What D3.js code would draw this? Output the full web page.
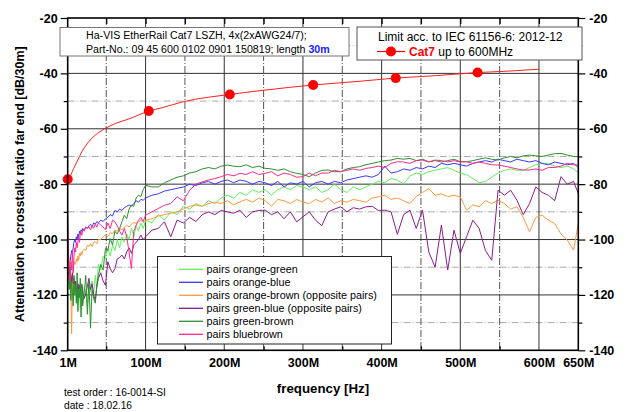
<!DOCTYPE html>
<html>
<head>
<meta charset="utf-8">
<script src="https://cdn.jsdelivr.net/npm/d3@7"></script>
<style>
  body { margin: 0; background: #fff; }
  text { font-family: Arial, "Liberation Sans", sans-serif; }
</style>
</head>
<body>
<div id="chart"></div>
<script>
// measurement frequencies in MHz (denser at the low end)
var freqs = [
  1, 2, 3, 4, 5, 6, 7, 8, 9, 10,
  11, 12, 13, 14, 15, 16, 17, 18, 19, 20,
  22, 24, 26, 28, 30, 32, 34, 36, 38, 40,
  43, 46, 49, 52, 55, 58, 61, 64, 67, 70,
  73, 76, 79, 82, 85, 88, 91, 94, 97, 100,
  108, 116, 124, 132, 140, 148, 156, 164, 172, 180,
  188, 196, 204, 212, 220, 228, 236, 244, 252, 260,
  268, 276, 284, 292, 300, 308, 316, 324, 332, 340,
  348, 356, 364, 372, 380, 388, 396, 404, 412, 420,
  428, 436, 444, 452, 460, 468, 476, 484, 492, 500,
  508, 516, 524, 532, 540, 548, 556, 564, 572, 580,
  588, 596, 604, 612, 620, 628, 636, 644, 650
];

// ACR-F in dB per pair combination
var orangeGreen = [
  -99, -106, -112, -110, -116, -113, -118, -114, -120, -117,
  -115, -121, -118, -123, -116, -120, -125, -119, -122, -117,
  -121, -118, -124, -116, -119, -115, -120, -113, -117, -109,
  -111, -106, -107, -103, -106, -102, -104, -100, -103, -99,
  -101, -98, -100, -96, -99, -95, -97, -94, -96, -93,
  -94, -91, -93, -90, -91, -88, -89, -87, -88, -86,
  -87, -85, -84, -85, -83, -84, -82, -83, -82, -84,
  -82, -81, -82, -80.5, -81, -82, -81, -83, -82, -80,
  -82, -83, -81, -82, -81, -80, -79, -79.5, -78, -78.5,
  -80, -77, -76, -76.5, -75.5, -75, -74.5, -74, -75, -76,
  -76.5, -78, -79.5, -79, -77.5, -76, -75, -74.5, -75, -75,
  -74, -73, -72.5, -72.5, -73.5, -74, -73.5, -74.5, -76
];
var orangeBlue = [
  -106, -110, -112, -108, -106, -104, -105, -103, -101, -100,
  -101, -99, -100, -98, -99, -97, -98, -96.5, -97, -96,
  -96.5, -95.5, -96, -95, -94.5, -95.5, -94, -94.5, -93.5, -94,
  -93, -93.5, -92.5, -92, -91, -91.5, -89.5, -90, -89, -89.5,
  -88.5, -88, -87.5, -88, -87, -86, -86.5, -85.5, -85.8, -85,
  -84, -83.5, -82.5, -82, -81.5, -81, -80, -80.5, -79.5, -79,
  -80, -79, -78.5, -79.5, -78.5, -79, -80, -79, -79.5, -80.5,
  -79, -81, -79.5, -80, -79, -81, -79.5, -79, -80, -79,
  -79.5, -78.5, -78, -77.5, -77, -77.5, -76.5, -73.5, -76, -75.5,
  -74.5, -75, -74, -74.5, -73.5, -74, -72.5, -73, -72.5, -73,
  -73.5, -72.5, -72, -71.5, -72, -71, -71.5, -72, -71, -71.5,
  -72, -71.5, -72.5, -73, -72, -72.5, -73, -72.5, -74
];
var orangeBrown = [
  -103, -105, -108, -112, -118, -134, -115, -110, -109, -108,
  -109, -107, -108, -106, -107.5, -105, -106, -104.5, -105.5, -104,
  -103.5, -104, -102, -102.5, -101.5, -102.5, -101, -100.8, -101.5, -100,
  -100, -99, -98.4, -99, -97.5, -98, -96.6, -97, -96, -96.5,
  -95.5, -94.8, -95.5, -94.5, -93.8, -94.2, -93.6, -93, -93.8, -93,
  -92.5, -91.5, -91, -90.5, -90, -89, -88, -87.5, -88, -87,
  -86.5, -87, -86, -87.5, -86.4, -85.5, -86.5, -85, -86, -88,
  -85.5, -86, -87, -85.5, -86.5, -87, -85.5, -86.5, -85, -87,
  -86, -86.5, -85.5, -86, -86.5, -85, -84.6, -84, -85.5, -85,
  -86, -87, -84.5, -83, -81.6, -84, -83.5, -84.5, -84, -84.6,
  -89.4, -87.5, -88.2, -86, -87, -85.8, -87, -89, -88.2, -92,
  -97.2, -92, -91.2, -93, -94.2, -98, -100.2, -103.8, -94.2
];
var greenBlue = [
  -91, -108, -112, -110, -113, -115, -112, -116, -114, -117,
  -115, -117, -119, -116, -118, -116.5, -120, -117, -116.5, -119,
  -121.3, -119.5, -117, -114, -118, -116, -120, -122, -117, -114,
  -112, -115, -116.5, -108, -110.5, -112, -110.5, -107, -106.5, -105.6,
  -107, -104.5, -103, -105, -102, -101, -100, -98.4, -100, -99,
  -96.6, -96, -93.6, -99, -93, -94, -92, -93.5, -91, -90,
  -91, -89.5, -90, -90.5, -89.4, -92, -90, -89.5, -89.4, -91,
  -90, -92.5, -90, -93.6, -91.8, -90, -93, -95, -90, -89,
  -88.2, -90, -88.5, -89, -88.2, -88, -89.5, -89.4, -90, -98.1,
  -91, -89.4, -96, -89.4, -104.5, -110, -94.8, -111, -96.6, -105,
  -99, -93, -96, -104, -107.5, -82.2, -84, -82.2, -85.8, -91,
  -87, -81, -83, -84, -86, -77.3, -80, -79, -83.4
];
var greenBrown = [
  -105, -112, -118, -110, -122, -115, -119, -124, -113, -120,
  -117, -123, -112, -126, -118, -121, -114, -128, -116, -124,
  -119, -113, -127, -115, -132, -118, -121.3, -123, -117, -113,
  -109, -111, -103.2, -104, -99.6, -102, -97, -98, -96, -93.5,
  -91.2, -92.5, -89, -87.6, -88, -85, -84, -84.5, -82, -80.4,
  -81, -81, -79.5, -78.5, -77.5, -77, -76, -75.5, -74.5, -74,
  -74.5, -73.5, -73.1, -73.5, -73.7, -73, -74, -73.5, -74.3, -74.5,
  -75, -74.5, -75.5, -76.1, -76.5, -77.3, -76, -75, -74.9, -75.5,
  -75.5, -74.5, -74, -73.7, -73, -72.5, -72, -71.5, -71.3, -70.7,
  -71, -70.7, -71.5, -71, -71.9, -71.5, -72, -71.5, -71, -71.9,
  -71.9, -71.5, -71, -70.5, -71, -71.3, -70.5, -70, -70.5, -69.8,
  -69.5, -69.8, -70, -69.5, -69, -68.9, -69.5, -70, -70.1
];
var blueBrown = [
  -98, -106, -112, -115, -108, -111, -104, -112, -106, -103,
  -104.5, -101, -103, -100.8, -99, -101, -98, -97.2, -98.5, -96.5,
  -97, -95.5, -96, -95.4, -96.5, -95, -96, -94.5, -95.5, -94,
  -94.8, -95.5, -96.5, -94, -96, -93, -93.6, -95, -97, -98.4,
  -96, -99, -104.5, -110.5, -97, -94.8, -93, -92, -93.5, -91.2,
  -90, -88.8, -87.6, -87, -84.6, -86, -82.2, -80, -79.2, -78.5,
  -78, -77.3, -76.5, -77, -76.1, -76.5, -75.5, -76.5, -76.1, -75.5,
  -77, -76, -76.5, -77.5, -77.3, -76, -77, -76, -76, -75,
  -75.5, -75, -74.5, -75, -74.3, -74, -73.5, -74, -72.5, -71.9,
  -72, -72.5, -71.5, -71.3, -72, -71.3, -71.5, -72, -71.5, -72,
  -71.9, -72.5, -72, -72.5, -73, -73.1, -73.5, -74, -74.5, -74.9,
  -74.9, -74.5, -75, -74, -74, -73.5, -72.5, -73, -73.1
];

// Cat7 limit line (IEC 61156-6) and its marker points
var limitFreqs = [1, 4.4, 8.6, 12.8, 19, 27.7, 36, 48.8, 61.5, 78.5, 104, 121, 147, 207, 253, 313, 370, 418, 470, 522, 560, 600];
var limitValues = [-78.2, -77, -74.3, -71.9, -68.3, -64.7, -62.3, -59.9, -58.1, -56.5, -53.6, -52.4, -50.3, -47.6, -46, -44.2, -42.9, -41.7, -40.8, -39.7, -39.2, -38.5];
var markerFreqs = [1, 104, 207, 313, 418, 522];
var markerValues = [-78.2, -53.6, -47.6, -44.2, -41.7, -39.7];

// tick labels
var xLabelTicks = [1, 100, 200, 300, 400, 500, 600, 650];
var xGridMajor = [100, 200, 300, 400, 500, 600];
var xGridMinor = [50, 150, 250, 350, 450, 550];
var yMajor = [-20, -40, -60, -80, -100, -120, -140];
var yMinor = [-30, -50, -70, -90, -110, -130];

var seriesNames = [
  "pairs orange-green",
  "pairs orange-blue",
  "pairs orange-brown (opposite pairs)",
  "pairs green-blue (opposite pairs)",
  "pairs green-brown",
  "pairs bluebrown"
];
var seriesColors = ["#5ef05e", "#3838ff", "#ff9a3c", "#8b1c8b", "#2f8f2f", "#ff2a8c"];
var seriesValues = [orangeGreen, orangeBlue, orangeBrown, greenBlue, greenBrown, blueBrown];

var svgWidth = 627;
var svgHeight = 412;
var margin = { top: 18, right: 48.7, bottom: 61.7, left: 67.7 };
var chartWidth = svgWidth - margin.left - margin.right;
var chartHeight = svgHeight - margin.top - margin.bottom;

var svg = d3.select("#chart").append("svg")
  .attr("width", svgWidth)
  .attr("height", svgHeight);

svg.append("rect").attr("width", svgWidth).attr("height", svgHeight).attr("fill", "#fff");

var chartGroup = svg.append("g")
  .attr("transform", `translate(${margin.left}, ${margin.top})`);

var xScale = d3.scaleLinear().domain([1, 650]).range([0, chartWidth]);
var yScale = d3.scaleLinear().domain([-140, -20]).range([chartHeight, 0]);

// grid lines
chartGroup.selectAll(".hminor").data(yMinor).enter().append("line")
  .attr("x1", 0).attr("x2", chartWidth)
  .attr("y1", d => yScale(d)).attr("y2", d => yScale(d))
  .attr("stroke", "#aaa").attr("stroke-width", 1)
  .attr("stroke-dasharray", "7,2,1,2");
chartGroup.selectAll(".vminor").data(xGridMinor).enter().append("line")
  .attr("x1", d => xScale(d)).attr("x2", d => xScale(d))
  .attr("y1", 0).attr("y2", chartHeight)
  .attr("stroke", "#555").attr("stroke-width", 1)
  .attr("stroke-dasharray", "7,2,1,2");
chartGroup.selectAll(".hmajor").data(yMajor.slice(1, -1)).enter().append("line")
  .attr("x1", 0).attr("x2", chartWidth)
  .attr("y1", d => yScale(d)).attr("y2", d => yScale(d))
  .attr("stroke", "#333").attr("stroke-width", 1);
chartGroup.selectAll(".vmajor").data(xGridMajor).enter().append("line")
  .attr("x1", d => xScale(d)).attr("x2", d => xScale(d))
  .attr("y1", 0).attr("y2", chartHeight)
  .attr("stroke", "#333").attr("stroke-width", 1);

// clip the traces to the plot frame
svg.append("clipPath").attr("id", "plotclip")
  .append("rect").attr("width", chartWidth).attr("height", chartHeight);

var traceGroup = chartGroup.append("g").attr("clip-path", "url(#plotclip)");

var line = d3.line()
  .x(d => xScale(d[0]))
  .y(d => yScale(d[1]));

seriesValues.forEach(function(vals, i) {
  traceGroup.append("path")
    .datum(freqs.map((f, j) => [f, vals[j]]))
    .attr("fill", "none")
    .attr("stroke", seriesColors[i])
    .attr("stroke-width", 1)
    .attr("stroke-linejoin", "round")
    .attr("d", line);
});

// limit line
var smoothLine = d3.line()
  .x(d => xScale(d[0]))
  .y(d => yScale(d[1]))
  .curve(d3.curveMonotoneX);

traceGroup.append("path")
  .datum(limitFreqs.map((f, j) => [f, limitValues[j]]))
  .attr("fill", "none")
  .attr("stroke", "#ff2020")
  .attr("stroke-width", 1)
  .attr("d", smoothLine);

chartGroup.selectAll(".marker")
  .data(markerFreqs.map((f, j) => [f, markerValues[j]]))
  .enter().append("circle")
  .attr("cx", d => xScale(d[0]))
  .attr("cy", d => yScale(d[1]))
  .attr("r", 5)
  .attr("fill", "#ff0000");

// axes
var labelFont = function(sel) {
  sel.selectAll("text")
    .attr("font-size", "12.5px")
    .attr("font-weight", "bold")
    .attr("fill", "#000");
  sel.select(".domain").remove();
  sel.selectAll("line").attr("stroke", "#000").attr("stroke-width", 1.2);
};

chartGroup.append("g")
  .call(d3.axisLeft(yScale).tickValues(yMajor).tickSize(7).tickPadding(3).tickFormat(d => String(d)))
  .call(labelFont);
chartGroup.append("g")
  .call(d3.axisLeft(yScale).tickValues(yMinor).tickSize(4).tickFormat(""))
  .call(labelFont);
chartGroup.append("g")
  .attr("transform", `translate(${chartWidth}, 0)`)
  .call(d3.axisRight(yScale).tickValues(yMajor).tickSize(7).tickPadding(4).tickFormat(d => String(d)))
  .call(labelFont);
chartGroup.append("g")
  .attr("transform", `translate(${chartWidth}, 0)`)
  .call(d3.axisRight(yScale).tickValues(yMinor).tickSize(4).tickFormat(""))
  .call(labelFont);

chartGroup.append("g")
  .attr("transform", `translate(0, ${chartHeight})`)
  .call(d3.axisBottom(xScale).tickValues(xLabelTicks).tickSize(0).tickPadding(8).tickFormat(d => d + "M"))
  .call(labelFont);
chartGroup.append("g")
  .attr("transform", `translate(0, ${chartHeight})`)
  .call(d3.axisBottom(xScale).tickValues(xGridMinor).tickSize(-4).tickFormat(""))
  .call(labelFont);
chartGroup.append("g")
  .call(d3.axisTop(xScale).tickValues(xGridMinor.concat(xGridMajor)).tickSize(-6).tickFormat(""))
  .call(labelFont);

// plot frame
chartGroup.append("rect")
  .attr("width", chartWidth).attr("height", chartHeight)
  .attr("fill", "none").attr("stroke", "#000").attr("stroke-width", 1.6);

// axis titles
chartGroup.append("text")
  .attr("transform", "rotate(-90)")
  .attr("x", 0 - chartHeight / 2)
  .attr("y", 0 - margin.left + 24)
  .attr("text-anchor", "middle")
  .attr("font-size", "12.5px")
  .attr("font-weight", "bold")
  .text("Attenuation to crosstalk ratio far end [dB/30m]");

svg.append("text")
  .attr("x", 323).attr("y", 393)
  .attr("text-anchor", "middle")
  .attr("font-size", "13.3px")
  .attr("font-weight", "bold")
  .text("frequency [Hz]");

svg.append("text").attr("x", 64).attr("y", 396).attr("font-size", "10.2px").text("test order : 16-0014-SI");
svg.append("text").attr("x", 64).attr("y", 409).attr("font-size", "10.2px").text("date : 18.02.16");

// cable description box
var info = svg.append("g");
info.append("rect")
  .attr("x", 60).attr("y", 27.5).attr("width", 289).attr("height", 28.5)
  .attr("fill", "#fff").attr("stroke", "#777").attr("stroke-width", 1);
info.append("text").attr("x", 86).attr("y", 39).attr("font-size", "10.65px")
  .text("Ha-VIS EtherRail Cat7 LSZH, 4x(2xAWG24/7);");
var partLine = info.append("text").attr("x", 86).attr("y", 53).attr("font-size", "10.65px");
partLine.append("tspan").text("Part-No.: 09 45 600 0102 0901 150819; length ");
partLine.append("tspan").attr("fill", "#1a1aff").attr("font-weight", "bold").text("30m");

// limit legend box
var lim = svg.append("g");
lim.append("rect")
  .attr("x", 357).attr("y", 27).attr("width", 225).attr("height", 33)
  .attr("fill", "#fff").attr("stroke", "#555").attr("stroke-width", 1);
lim.append("text").attr("x", 378).attr("y", 40.5).attr("font-size", "12px")
  .text("Limit acc. to IEC 61156-6: 2012-12");
lim.append("line").attr("x1", 377).attr("x2", 405).attr("y1", 51.5).attr("y2", 51.5)
  .attr("stroke", "#ff0000").attr("stroke-width", 1.2);
lim.append("circle").attr("cx", 391).attr("cy", 51.5).attr("r", 5).attr("fill", "#ff0000");
var limText = lim.append("text").attr("x", 409).attr("y", 56).attr("font-size", "12px");
limText.append("tspan").attr("fill", "#ff0000").attr("font-weight", "bold").text("Cat7");
limText.append("tspan").text(" up to 600MHz");

// pair legend box
var leg = svg.append("g");
leg.append("rect")
  .attr("x", 157.5).attr("y", 256.5).attr("width", 234).attr("height", 87.5)
  .attr("fill", "#fff").attr("stroke", "#222").attr("stroke-width", 1);
var rows = leg.selectAll(".row").data(seriesNames).enter().append("g")
  .attr("transform", (d, i) => `translate(0, ${269.3 + i * 13})`);
rows.append("line")
  .attr("x1", 179).attr("x2", 203).attr("y1", 0).attr("y2", 0)
  .attr("stroke", (d, i) => seriesColors[i]).attr("stroke-width", 1.3);
rows.append("text")
  .attr("x", 206.5).attr("y", 3.7)
  .attr("font-size", "10.8px")
  .text(d => d);
</script>
</body>
</html>
